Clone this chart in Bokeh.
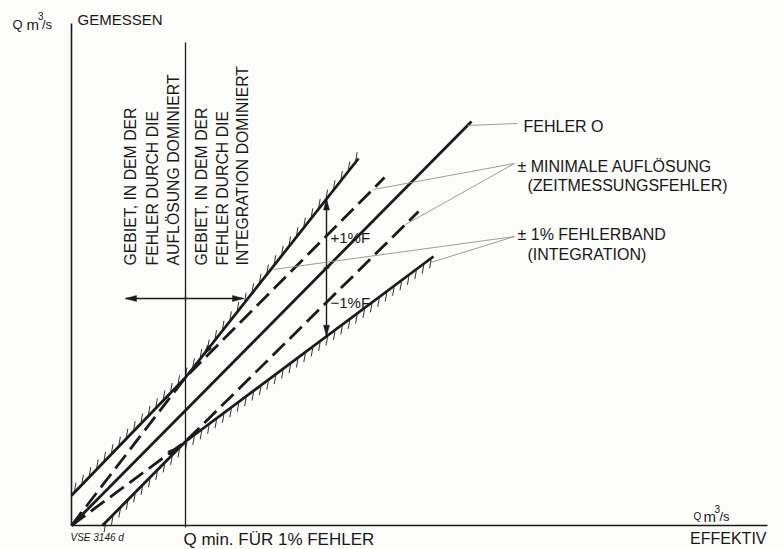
import numpy as np
from bokeh.plotting import figure
from bokeh.models import Range1d
from bokeh.core.properties import value
from bokeh.embed import file_html
from bokeh.resources import INLINE

# Schematic of measured flow (Q gemessen) against true flow (Q effektiv), arbitrary units
q_min = 114

# Error-free line
fehler0_q = [0, 400]
fehler0_g = [0, 404]

# Outer limits of the error band (hatched)
band_hi_q = [0, 114, 287]
band_hi_g = [30, 148, 367]
band_lo_q = [31, 114, 362]
band_lo_g = [0, 84, 269]

# +/- minimal resolution (dashed)
res_hi_q = [0, 114, 313]
res_hi_g = [0, 148, 348]
res_lo_q = [0, 114, 347]
res_lo_g = [0, 84, 314]

# Axis extents
axis_q_end = 696
axis_g_end = 502

# Double arrows: region divider and the +/-1 % span
region_arrow_g = 227
region_arrow_q = [54, 172]
span_arrow_q = 255

INK = "#1b1b1b"
TXT = "#181818"
LEAD = "#9b8f84"
FONT = "Liberation Sans"

p = figure(width=783, height=549, x_range=Range1d(-71, 712), y_range=Range1d(-24, 525),
           x_axis_type=None, y_axis_type=None, min_border=0,
           toolbar_location=None, output_backend="svg")
p.grid.visible = False
p.outline_line_color = None
p.background_fill_color = "#fcfcfa"
p.border_fill_color = "#fcfcfa"

# Axes
p.line([0, 0], [0, axis_g_end], line_color=INK, line_width=1.6)
p.line([0, axis_q_end], [0, 0], line_color=INK, line_width=1.6)
# Q min divider
p.line([q_min, q_min], [-2, 483], line_color=INK, line_width=1.3)

# Main lines
p.line(fehler0_q, fehler0_g, line_color=INK, line_width=2.8)
p.line(band_hi_q, band_hi_g, line_color=INK, line_width=2.8)
p.line(band_lo_q, band_lo_g, line_color=INK, line_width=2.8)
p.line(res_hi_q, res_hi_g, line_color=INK, line_width=2.8, line_dash="17 7")
p.line(res_lo_q, res_lo_g, line_color=INK, line_width=2.8, line_dash="17 7")

# Hatching on the outer side of the band limits
ang = np.deg2rad(80)
tick_len = 8.5
hq = np.arange(band_hi_q[0] + 3, band_hi_q[-1] - 2, 7.4)
hg = np.interp(hq, band_hi_q, band_hi_g)
p.segment(hq, hg + 1.5, hq + tick_len * np.cos(ang), hg + 1.5 + tick_len * np.sin(ang),
          line_color=INK, line_width=0.9)
lq = np.arange(band_lo_q[0] + 3, band_lo_q[-1] - 2, 7.4)
lg = np.interp(lq, band_lo_q, band_lo_g)
p.segment(lq, lg - 1.5, lq - tick_len * np.cos(ang), lg - 1.5 - tick_len * np.sin(ang),
          line_color=INK, line_width=0.9)


def head(xt, yt, xf, yf, length=11.0, half=3.0):
    d = np.array([xt - xf, yt - yf], dtype=float)
    d /= np.hypot(*d)
    n = np.array([-d[1], d[0]])
    base = np.array([xt, yt]) - d * length
    return ([xt, base[0] + n[0] * half, base[0] - n[0] * half],
            [yt, base[1] + n[1] * half, base[1] - n[1] * half])


heads_x, heads_y = [], []

# Horizontal region arrow
ra0, ra1 = region_arrow_q
p.line([ra0, ra1], [region_arrow_g, region_arrow_g], line_color=INK, line_width=1.4)
for xt, xf in ((ra0, ra1), (ra1, ra0)):
    hx, hy = head(xt, region_arrow_g, xf, region_arrow_g)
    heads_x.append(hx); heads_y.append(hy)
p.segment([q_min], [region_arrow_g - 3], [q_min], [region_arrow_g + 3], line_color=INK, line_width=1.2)

# Vertical +/-1 % arrow between the band limits
sa_top = float(np.interp(span_arrow_q, band_hi_q, band_hi_g))
sa_bot = float(np.interp(span_arrow_q, band_lo_q, band_lo_g))
sa_mid = float(np.interp(span_arrow_q, fehler0_q, fehler0_g))
p.line([span_arrow_q, span_arrow_q], [sa_bot, sa_top], line_color=INK, line_width=1.4)
for yt, yf in ((sa_top, sa_bot), (sa_bot, sa_top)):
    hx, hy = head(span_arrow_q, yt, span_arrow_q, yf)
    heads_x.append(hx); heads_y.append(hy)
p.segment([span_arrow_q - 3], [sa_mid], [span_arrow_q + 3], [sa_mid], line_color=INK, line_width=1.2)

# Small arrowheads where the dashed limits run into the origin and the Q min corner
hx, hy = head(1.5, 1.5, 14, 14, length=13, half=3.2)
heads_x.append(hx); heads_y.append(hy)
kq = 106
hx, hy = head(kq, float(np.interp(kq, res_lo_q, res_lo_g)), 90,
              float(np.interp(90, res_lo_q, res_lo_g)), length=10, half=2.8)
heads_x.append(hx); heads_y.append(hy)
kq = 132
hx, hy = head(kq, float(np.interp(kq, band_hi_q, band_hi_g)), 146,
              float(np.interp(146, band_hi_q, band_hi_g)), length=10, half=2.8)
heads_x.append(hx); heads_y.append(hy)

p.patches(heads_x, heads_y, fill_color=INK, line_color=INK, line_width=0.5)

# Leader lines to the legend texts
lead_x0 = [396, 302, 334, 202, 359]
lead_y0 = [400, 336, 301, 256, 263]
lead_x1 = [446, 443, 443, 443, 443]
lead_y1 = [402, 362, 362, 289, 289]
p.segment(lead_x0, lead_y0, lead_x1, lead_y1, line_color=LEAD, line_width=0.9)


def txt(x, y, s, size="16px", align="left", baseline="middle", angle=0.0, style="normal"):
    p.text([x], [y], text=[s], angle=angle, text_font=value(FONT), text_font_size=value(size),
           text_color=TXT, text_align=align, text_baseline=baseline, text_font_style=style)


# Legend texts on the right
txt(452, 399, "FEHLER O")
txt(446, 359, "± MINIMALE AUFLÖSUNG")
txt(456, 340, "(ZEITMESSUNGSFEHLER)")
txt(446, 291, "± 1% FEHLERBAND")
txt(456, 271, "(INTEGRATION)")

# Band annotations
txt(259, 288, "+1%F", size="15px")
txt(259, 223, "−1%F", size="15px")

# Region descriptions, rotated
rot = np.pi / 2
for xq, s in ((58.5, "GEBIET, IN DEM DER"), (81, "FEHLER DURCH DIE"), (102, "AUFLÖSUNG DOMINIERT"),
              (130, "GEBIET, IN DEM DER"), (150.5, "FEHLER DURCH DIE"), (171, "INTEGRATION DOMINIERT")):
    txt(xq, 260, s, size="15.8px", angle=rot)

# Axis titles
txt(-59, 501, "Q", size="13px", baseline="alphabetic")
txt(-45, 501, "m", size="15px", baseline="alphabetic")
txt(-33.5, 510, "3", size="10px", baseline="alphabetic")
txt(-29.5, 501, "/s", size="13px", baseline="alphabetic")
txt(6, 506, "GEMESSEN", size="15px")

txt(622, 9, "Q", size="10px", baseline="alphabetic")
txt(632, 9, "m", size="15px", baseline="alphabetic")
txt(643, 17, "3", size="10px", baseline="alphabetic")
txt(648, 9, "/s", size="13px", baseline="alphabetic")
txt(695, -13, "EFFEKTIV", align="right")

txt(112, -14, "Q min. FÜR  1% FEHLER", size="17px")
txt(-1, -12, "VSE 3146 d", size="10px", style="italic")

open("out.html", "w").write(file_html(p, INLINE))
